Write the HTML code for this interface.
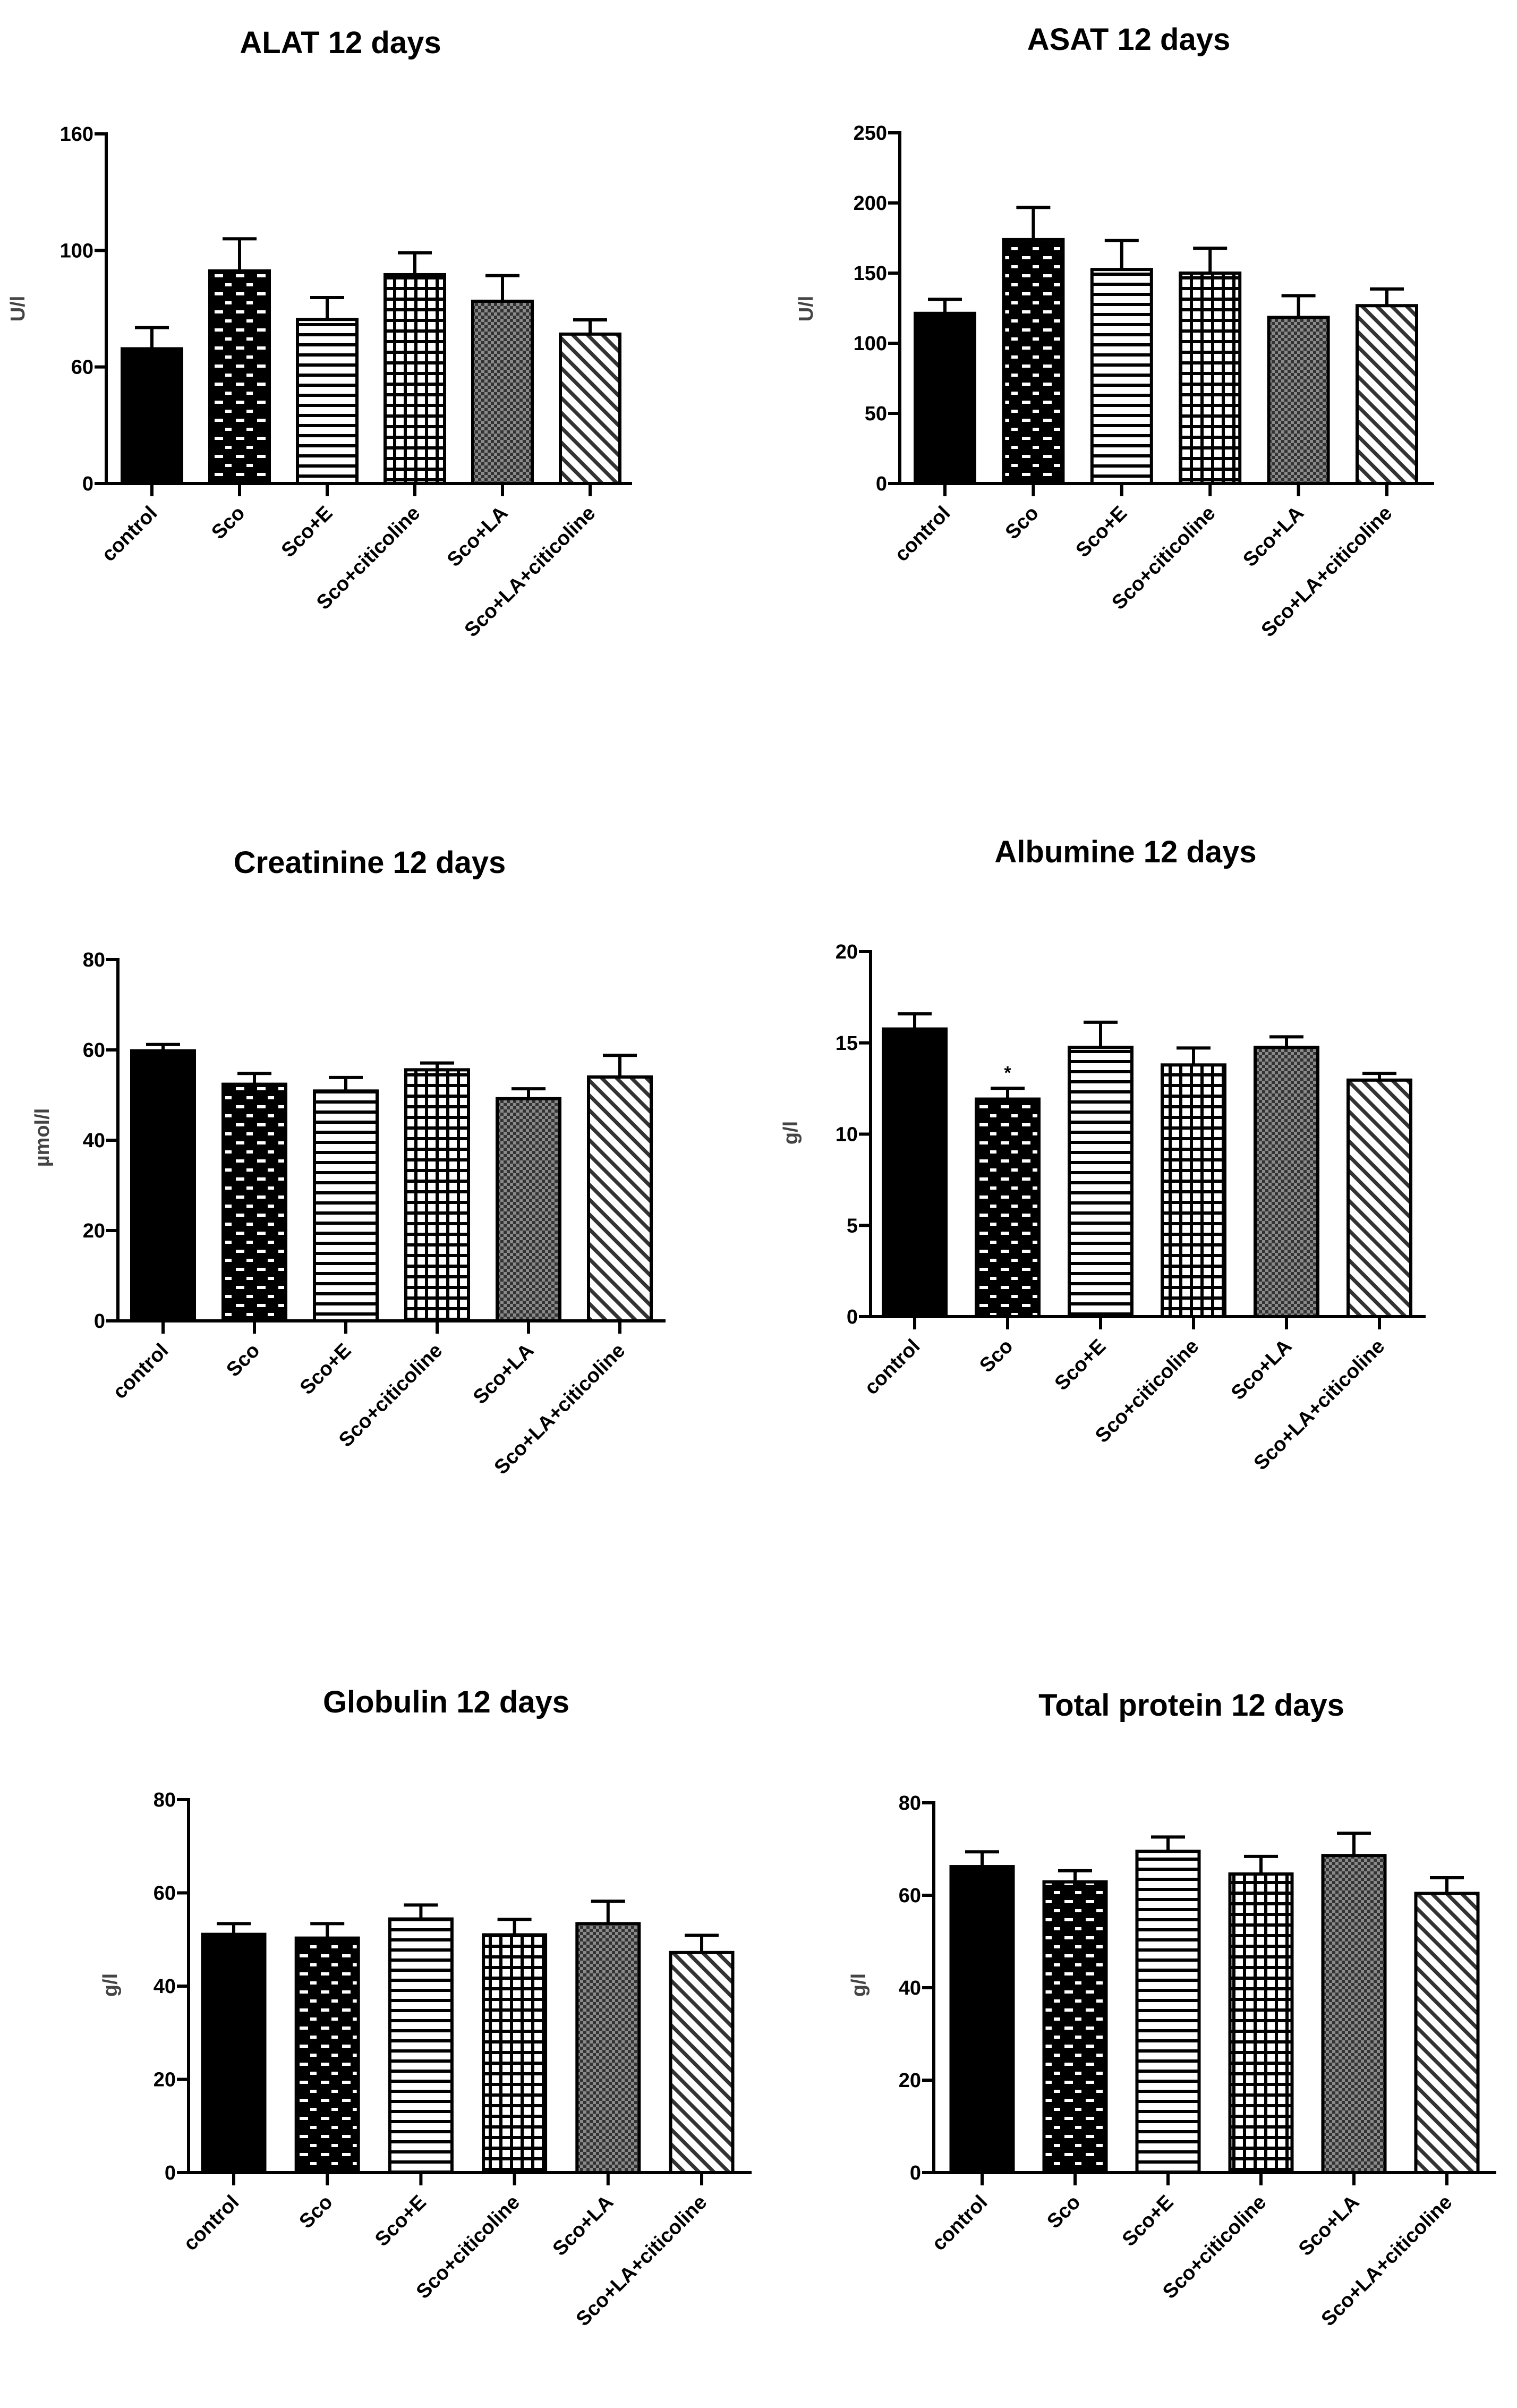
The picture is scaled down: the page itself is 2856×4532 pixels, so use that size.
<!DOCTYPE html>
<html><head><meta charset="utf-8"><style>
html,body{margin:0;padding:0;background:#fff;}
svg{display:block;}
text{font-family:"Liberation Sans",Arial,sans-serif;font-weight:bold;fill:#000;}
</style></head><body>
<svg id="root" width="2856" height="4532" viewBox="0 0 2856 4532" xmlns="http://www.w3.org/2000/svg">
<defs>
<pattern id="p-sco" patternUnits="userSpaceOnUse" width="40" height="34"><rect width="40" height="34" fill="#000"/><rect x="4" y="6" width="16" height="6" fill="#fff"/><rect x="24" y="23" width="12" height="6" fill="#fff"/></pattern>
<pattern id="p-hline" patternUnits="userSpaceOnUse" width="20" height="19"><rect width="20" height="19" fill="#fff"/><rect y="0" width="20" height="6" fill="#000"/></pattern>
<pattern id="p-grid" patternUnits="userSpaceOnUse" width="20" height="20"><rect width="20" height="20" fill="#fff"/><rect width="20" height="6" fill="#000"/><rect width="6" height="20" fill="#000"/></pattern>
<pattern id="p-check" patternUnits="userSpaceOnUse" width="12" height="12"><rect width="12" height="12" fill="#8a8a8a"/><rect width="6" height="6" fill="#333"/><rect x="6" y="6" width="6" height="6" fill="#333"/></pattern>
<pattern id="p-diag" patternUnits="userSpaceOnUse" width="28" height="28"><rect width="28" height="28" fill="#fff"/><path d="M-7,-7 L35,35 M-7,21 L7,35 M21,-7 L35,7" stroke="#333" stroke-width="7"/></pattern>
</defs>
</svg>
<script>
const categories = ["control","Sco","Sco+E","Sco+citicoline","Sco+LA","Sco+LA+citicoline"];
const fills = ["#000","url(#p-sco)","url(#p-hline)","url(#p-grid)","url(#p-check)","url(#p-diag)"];

const alatValues = [57.8, 91.2, 70.4, 89.6, 78.2, 64.1];
const alatErrors = [66.9, 105.0, 79.8, 99.0, 89.2, 70.2];
const alatTicks = [0, 50, 100, 150];
const alatTickLabels = ["0","60","100","160"];

const asatValues = [121.3, 173.9, 152.6, 150.0, 118.4, 126.8];
const asatErrors = [131.3, 196.8, 173.2, 167.7, 133.9, 138.7];
const asatTicks = [0, 50, 100, 150, 200, 250];
const asatTickLabels = ["0","50","100","150","200","250"];

const creaValues = [59.8, 52.4, 50.9, 55.6, 49.2, 54.0];
const creaErrors = [61.2, 54.8, 53.9, 57.1, 51.4, 58.8];
const creaTicks = [0, 20, 40, 60, 80];
const creaTickLabels = ["0","20","40","60","80"];

const albValues = [15.76, 11.92, 14.75, 13.79, 14.75, 12.96];
const albErrors = [16.59, 12.51, 16.13, 14.72, 15.33, 13.33];
const albTicks = [0, 5, 10, 15, 20];
const albTickLabels = ["0","5","10","15","20"];

const globValues = [51.1, 50.3, 54.4, 51.0, 53.4, 47.2];
const globErrors = [53.4, 53.4, 57.4, 54.3, 58.2, 50.9];
const globTicks = [0, 20, 40, 60, 80];
const globTickLabels = ["0","20","40","60","80"];

const tpValues = [66.2, 62.9, 69.5, 64.6, 68.6, 60.4];
const tpErrors = [69.4, 65.3, 72.6, 68.4, 73.4, 63.8];
const tpTicks = [0, 20, 40, 60, 80];
const tpTickLabels = ["0","20","40","60","80"];

const NS = "http://www.w3.org/2000/svg";
const root = document.getElementById('root');
function mk(tag, attrs, parent){const e=document.createElementNS(NS,tag);for(const k in attrs)e.setAttribute(k,attrs[k]);parent.appendChild(e);return e;}

const charts = [
 {id:"alat", title:"ALAT 12 days", ylabel:"U/l", vals:alatValues, errs:alatErrors, ticks:alatTicks, tlabels:alatTickLabels, max:150,
  ax:200, y0:910, ytop:252, xend:1190, step:165, x1:286, bw:112, tx:641, ty:100, lx:46, ly:581},
 {id:"asat", title:"ASAT 12 days", ylabel:"U/l", vals:asatValues, errs:asatErrors, ticks:asatTicks, tlabels:asatTickLabels, max:250,
  ax:1694, y0:910, ytop:250, xend:2700, step:166.4, x1:1779, bw:112, tx:2125, ty:94, lx:1530, ly:581},
 {id:"creatinine", title:"Creatinine 12 days", ylabel:"µmol/l", vals:creaValues, errs:creaErrors, ticks:creaTicks, tlabels:creaTickLabels, max:80,
  ax:222, y0:2486, ytop:1806, xend:1253, step:172, x1:307, bw:118, tx:696, ty:1643, lx:92, ly:2141},
 {id:"albumine", title:"Albumine 12 days", ylabel:"g/l", vals:albValues, errs:albErrors, ticks:albTicks, tlabels:albTickLabels, max:20,
  ax:1639, y0:2478, ytop:1791, xend:2684, step:175, x1:1722, bw:118, tx:2119, ty:1623, lx:1501, ly:2132},
 {id:"globulin", title:"Globulin 12 days", ylabel:"g/l", vals:globValues, errs:globErrors, ticks:globTicks, tlabels:globTickLabels, max:80,
  ax:355, y0:4089, ytop:3387, xend:1415, step:176.2, x1:440, bw:117, tx:840, ty:3223, lx:220, ly:3736},
 {id:"total-protein", title:"Total protein 12 days", ylabel:"g/l", vals:tpValues, errs:tpErrors, ticks:tpTicks, tlabels:tpTickLabels, max:80,
  ax:1758, y0:4089, ytop:3393, xend:2817, step:175, x1:1849, bw:117, tx:2243, ty:3229, lx:1629, ly:3736}
];

charts.forEach(c=>{
  const g = mk('g',{},root);
  
  
  const yS = v => c.y0 - (v/c.max)*(c.y0-c.ytop);
  const xS = i => c.x1 + i*c.step;
  const t = mk('text',{x:c.tx,y:c.ty,'font-size':58,'text-anchor':'middle'},g);
  t.textContent = c.title;
  
  
  const yl = mk('text',{x:c.lx,y:c.ly,'font-size':38,'text-anchor':'middle',transform:`rotate(-90 ${c.lx} ${c.ly})`,style:'fill:#444'},g);
  yl.textContent = c.ylabel;
  
  
  c.vals.forEach((v,i)=>{
    const cx = xS(i), top = yS(v);
    const b = mk('rect',{x:cx-c.bw/2,y:top,width:c.bw,height:c.y0-top,fill:fills[i],stroke:'#000','stroke-width':6},g);
    
    
    const ey = yS(c.errs[i]);
    const e = mk('path',{d:`M${cx},${top} L${cx},${ey} M${cx-32},${ey} L${cx+32},${ey}`,stroke:'#000','stroke-width':6,fill:'none'},g);
    
    
    mk('line',{x1:cx,y1:c.y0,x2:cx,y2:c.y0+24,stroke:'#000','stroke-width':6},g);
    const lx = cx+12, ly = c.y0+58;
    const lab = mk('text',{x:lx,y:ly,'font-size':38,'text-anchor':'end',transform:`rotate(-45 ${lx} ${ly})`},g);
    lab.textContent = categories[i];
    
    
  });
  if(c.id==='albumine'){
    const s = mk('text',{x:xS(1),y:yS(c.errs[1])-18,'font-size':34,'text-anchor':'middle'},g);
    s.textContent='*';
    
    
  }
  const ya = mk('line',{x1:c.ax,y1:c.ytop-3,x2:c.ax,y2:c.y0+3,stroke:'#000','stroke-width':6},g);
  
  
  const xa = mk('line',{x1:c.ax-3,y1:c.y0,x2:c.xend,y2:c.y0,stroke:'#000','stroke-width':6},g);
  
  
  c.ticks.forEach((tv,k)=>{
    const y = yS(tv);
    mk('line',{x1:c.ax-22,y1:y,x2:c.ax,y2:y,stroke:'#000','stroke-width':6},g);
    const tl = mk('text',{x:c.ax-24,y:y+13,'font-size':38,'text-anchor':'end'},g);
    tl.textContent = c.tlabels[k];
    
    
  });
});
</script>
</body></html>
